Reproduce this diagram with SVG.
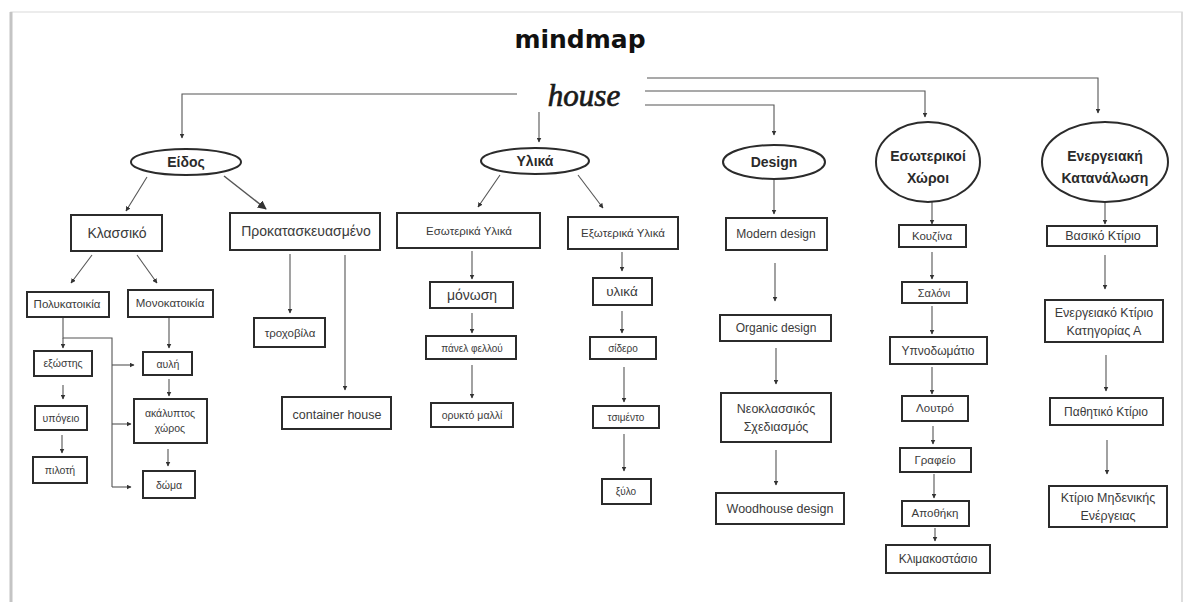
<svg xmlns="http://www.w3.org/2000/svg" width="1184" height="602" viewBox="0 0 1184 602">
<defs>
<marker id="ah" viewBox="0 0 10 10" refX="9" refY="5" markerWidth="5" markerHeight="5" markerUnits="userSpaceOnUse" orient="auto"><path d="M0,0 L10,5 L0,10 z" fill="#333"/></marker>
<marker id="ahb" viewBox="0 0 10 10" refX="9" refY="5" markerWidth="9" markerHeight="9" markerUnits="userSpaceOnUse" orient="auto"><path d="M0,0 L10,5 L0,10 z" fill="#333"/></marker>
<style>
.bx{fill:#fff;stroke:#2b2b2b;stroke-width:2}
.el{fill:#fff;stroke:#2b2b2b;stroke-width:2}
.t{font-family:"Liberation Sans",Arial,sans-serif;fill:#3a3a3a;text-anchor:middle}
.tb{font-family:"Liberation Sans",Arial,sans-serif;fill:#2a2a2a;text-anchor:middle;font-weight:bold;font-size:14px}
.c{fill:none;stroke:#555;stroke-width:1.1}
.ca{fill:none;stroke:#555;stroke-width:1.1;marker-end:url(#ah)}
</style>
</defs>
<rect x="0" y="0" width="1184" height="602" fill="#fff"/>
<rect x="11" y="12" width="1171" height="592" fill="#fff" stroke="#e6e6e6" stroke-width="1.5"/>
<line x1="11" y1="12" x2="11" y2="602" stroke="#c4c4c4" stroke-width="3"/>
<line x1="1182" y1="12" x2="1182" y2="602" stroke="#d8d8d8" stroke-width="1.5"/>

<text x="580" y="48" font-family="DejaVu Sans,sans-serif" font-weight="bold" font-size="25" text-anchor="middle" fill="#111">mindmap</text>
<g id="house"><text x="584" y="106" font-family="Liberation Serif,serif" font-style="italic" font-size="31" text-anchor="middle" fill="#1a1a1a" stroke="#1a1a1a" stroke-width="0.7">house</text></g>

<g id="connectors">
<path class="ca" d="M517,94 H182 V138"/>
<path class="ca" d="M539,112 V142"/>
<path class="ca" d="M645,105 H774 V135"/>
<path class="ca" d="M645,91 H925 V117"/>
<path class="ca" d="M647,78 H1098 V113"/>

<path class="ca" d="M147,177 L126,211"/>
<path class="ca" style="stroke-width:1.5;marker-end:url(#ahb)" d="M224,176 L266,209"/>
<path class="ca" d="M92,255 L71,283"/>
<path class="ca" d="M137,255 L157,283"/>
<path class="ca" d="M290,254 V313"/>
<path class="ca" d="M345,255 V390"/>
<path class="c" d="M63,317 V338 H112 V487"/>
<path class="ca" d="M63,338 V348"/>
<path class="ca" d="M112,365 H134"/>
<path class="ca" d="M112,424 H131"/>
<path class="ca" d="M112,487 H131"/>
<path class="ca" d="M63,385 V399"/>
<path class="ca" d="M62,435 V453"/>
<path class="ca" d="M169,318 V348"/>
<path class="ca" d="M169,379 V396"/>
<path class="ca" d="M168,449 V466"/>

<path class="ca" d="M500,175 L478,207"/>
<path class="ca" d="M578,175 L603,208"/>
<path class="ca" d="M472,251 V279"/>
<path class="ca" d="M472,313 V333"/>
<path class="ca" d="M472,365 V398"/>
<path class="ca" d="M622,252 V271"/>
<path class="ca" d="M622,311 V333"/>
<path class="ca" d="M624,367 V402"/>
<path class="ca" d="M624,434 V471"/>

<path class="ca" d="M774,180 V214"/>
<path class="ca" d="M775,263 V301"/>
<path class="ca" d="M776,348 V384"/>
<path class="ca" d="M776,450 V485"/>

<path class="ca" d="M932,202 V224"/>
<path class="ca" d="M932,252 V279"/>
<path class="ca" d="M932,306 V334"/>
<path class="ca" d="M932,367 V394"/>
<path class="ca" d="M933,426 V444"/>
<path class="ca" d="M934,474 V498"/>
<path class="ca" d="M935,528 V541"/>

<path class="ca" d="M1105,203 V224"/>
<path class="ca" d="M1105,255 V289"/>
<path class="ca" d="M1106,355 V391"/>
<path class="ca" d="M1107,440 V474"/>
</g>

<g id="eidos"><ellipse class="el" cx="186" cy="162" rx="55" ry="13"/><text class="tb" x="186" y="167">Είδος</text></g>
<g id="ylika"><ellipse class="el" cx="535" cy="161" rx="54" ry="13"/><text class="tb" x="535" y="166">Υλικά</text></g>
<g id="design"><ellipse class="el" cx="774" cy="162" rx="51" ry="17"/><text class="tb" x="774" y="167">Design</text></g>
<g id="esoterikoi"><ellipse class="el" cx="928" cy="162" rx="52" ry="40"/><text class="tb" x="928" y="161">Εσωτερικοί</text><text class="tb" x="928" y="183">Χώροι</text></g>
<g id="energeiaki"><ellipse class="el" cx="1105" cy="162" rx="63" ry="40"/><text class="tb" x="1105" y="161">Ενεργειακή</text><text class="tb" x="1105" y="183">Κατανάλωση</text></g>

<g id="klassiko"><rect class="bx" x="71" y="215" width="91" height="36"/><text class="t" x="117" y="238" font-size="14">Κλασσικό</text></g>
<g id="prokat"><rect class="bx" x="230" y="213" width="150" height="37"/><text class="t" x="306" y="236" font-size="14">Προκατασκευασμένο</text></g>
<g id="polykat"><rect class="bx" x="27" y="292" width="82" height="25"/><text class="t" x="67" y="308" font-size="11.5">Πολυκατοικία</text></g>
<g id="monokat"><rect class="bx" x="128" y="290" width="85" height="27"/><text class="t" x="170" y="307" font-size="11.5">Μονοκατοικία</text></g>
<g id="exostis"><rect class="bx" x="34" y="351" width="58" height="25"/><text class="t" x="63" y="367" font-size="10.5">εξώστης</text></g>
<g id="ypogeio"><rect class="bx" x="35" y="406" width="52" height="24"/><text class="t" x="61" y="422" font-size="10.5">υπόγειο</text></g>
<g id="piloti"><rect class="bx" x="33" y="457" width="54" height="26"/><text class="t" x="60" y="474" font-size="10.5">πιλοτή</text></g>
<g id="avli"><rect class="bx" x="143" y="352" width="49" height="23"/><text class="t" x="168" y="368" font-size="10.5">αυλή</text></g>
<g id="akalyptos"><rect class="bx" x="134" y="399" width="73" height="44"/><text class="t" x="170" y="417" font-size="10.5">ακάλυπτος</text><text class="t" x="170" y="432" font-size="10.5">χώρος</text></g>
<g id="doma"><rect class="bx" x="143" y="471" width="52" height="27"/><text class="t" x="169" y="489" font-size="10.5">δώμα</text></g>
<g id="troxovila"><rect class="bx" x="254" y="318" width="71" height="29"/><text class="t" x="290" y="337" font-size="11.5">τροχοβίλα</text></g>
<g id="container"><rect class="bx" x="282" y="397" width="109" height="32"/><text class="t" x="337" y="419" font-size="12.5">container house</text></g>

<g id="esot-ylika"><rect class="bx" x="397" y="213" width="143" height="35"/><text class="t" x="469" y="235" font-size="11.5">Εσωτερικά Υλικά</text></g>
<g id="exot-ylika"><rect class="bx" x="568" y="217" width="110" height="32"/><text class="t" x="623" y="237" font-size="11.5">Εξωτερικά Υλικά</text></g>
<g id="monosi"><rect class="bx" x="430" y="282" width="83" height="26"/><text class="t" x="472" y="300" font-size="14">μόνωση</text></g>
<g id="panel"><rect class="bx" x="426" y="336" width="90" height="23"/><text class="t" x="472" y="352" font-size="10">πάνελ φελλού</text></g>
<g id="oryktο"><rect class="bx" x="431" y="403" width="82" height="24"/><text class="t" x="472" y="419" font-size="10.5">ορυκτό μαλλί</text></g>
<g id="ylika2"><rect class="bx" x="593" y="278" width="59" height="27"/><text class="t" x="622" y="296" font-size="13.5">υλικά</text></g>
<g id="sidero"><rect class="bx" x="590" y="337" width="66" height="22"/><text class="t" x="623" y="352" font-size="10">σίδερο</text></g>
<g id="tsimento"><rect class="bx" x="593" y="406" width="66" height="22"/><text class="t" x="626" y="421" font-size="10">τσιμέντο</text></g>
<g id="xylo"><rect class="bx" x="602" y="479" width="49" height="25"/><text class="t" x="626" y="495" font-size="10">ξύλο</text></g>

<g id="modern"><rect class="bx" x="726" y="218" width="101" height="32"/><text class="t" x="776" y="238" font-size="12">Modern design</text></g>
<g id="organic"><rect class="bx" x="720" y="315" width="111" height="26"/><text class="t" x="776" y="332" font-size="12">Organic design</text></g>
<g id="neoklassikos"><rect class="bx" x="721" y="393" width="110" height="49"/><text class="t" x="776" y="413" font-size="12.5">Νεοκλασσικός</text><text class="t" x="776" y="431" font-size="12.5">Σχεδιασμός</text></g>
<g id="woodhouse"><rect class="bx" x="716" y="493" width="128" height="31"/><text class="t" x="780" y="513" font-size="12.5">Woodhouse design</text></g>

<g id="kouzina"><rect class="bx" x="899" y="225" width="67" height="22"/><text class="t" x="932" y="240" font-size="11.5">Κουζίνα</text></g>
<g id="saloni"><rect class="bx" x="902" y="282" width="65" height="21"/><text class="t" x="934" y="297" font-size="11">Σαλόνι</text></g>
<g id="ypnodomatio"><rect class="bx" x="890" y="337" width="97" height="27"/><text class="t" x="938" y="355" font-size="12">Υπνοδωμάτιο</text></g>
<g id="loutro"><rect class="bx" x="902" y="396" width="66" height="25"/><text class="t" x="935" y="412" font-size="11.5">Λουτρό</text></g>
<g id="grafeio"><rect class="bx" x="900" y="448" width="71" height="24"/><text class="t" x="935" y="464" font-size="11.5">Γραφείο</text></g>
<g id="apothiki"><rect class="bx" x="902" y="501" width="67" height="25"/><text class="t" x="935" y="517" font-size="11.5">Αποθήκη</text></g>
<g id="klimakostasio"><rect class="bx" x="886" y="545" width="104" height="28"/><text class="t" x="938" y="563" font-size="12">Κλιμακοστάσιο</text></g>

<g id="vasiko"><rect class="bx" x="1047" y="226" width="110" height="20"/><text class="t" x="1103" y="240" font-size="12.5">Βασικό Κτίριο</text></g>
<g id="energeiako"><rect class="bx" x="1045" y="300" width="118" height="42"/><text class="t" x="1104" y="317" font-size="12.5">Ενεργειακό Κτίριο</text><text class="t" x="1104" y="335" font-size="12.5">Κατηγορίας Α</text></g>
<g id="pathitiko"><rect class="bx" x="1050" y="398" width="113" height="27"/><text class="t" x="1106" y="416" font-size="12">Παθητικό Κτίριο</text></g>
<g id="midenikis"><rect class="bx" x="1049" y="486" width="118" height="41"/><text class="t" x="1108" y="502" font-size="12.5">Κτίριο Μηδενικής</text><text class="t" x="1108" y="520" font-size="12.5">Ενέργειας</text></g>
</svg>
